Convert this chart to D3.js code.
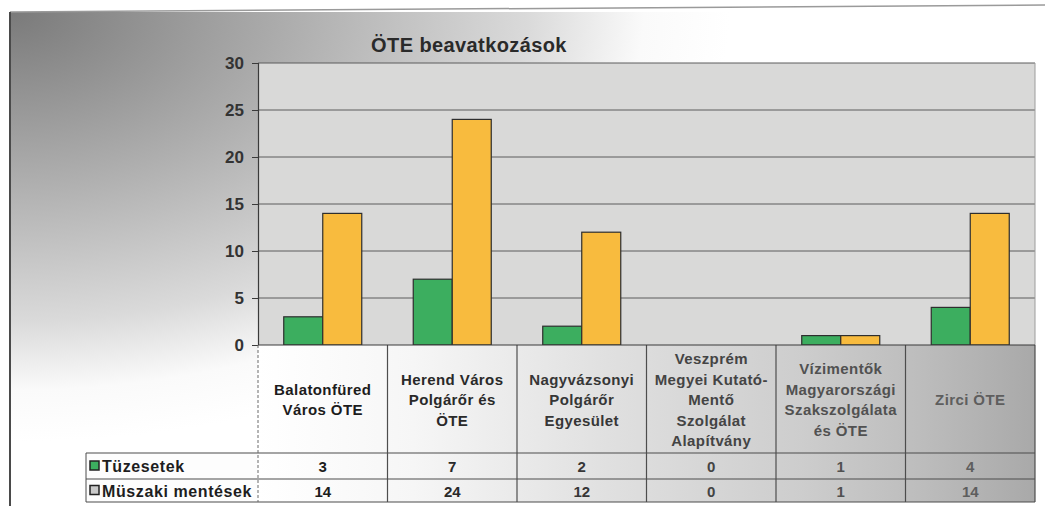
<!DOCTYPE html>
<html>
<head>
<meta charset="utf-8">
<script src="https://cdn.jsdelivr.net/npm/d3@7"></script>
<style>
  body { margin: 0; background: #fff; }
  svg { display: block; }
  text { font-family: Arial, "Liberation Sans", sans-serif; font-weight: bold; }
</style>
</head>
<body>
<svg id="chart" width="1045" height="506"></svg>
<script>
// chart data
var title = 'ÖTE beavatkozások';
var categories = [
    'Balatonfüred Város ÖTE',
    'Herend Város Polgárőr és ÖTE',
    'Nagyvázsonyi Polgárőr Egyesület',
    'Veszprém Megyei Kutató-Mentő Szolgálat Alapítvány',
    'Vízimentők Magyarországi Szakszolgálata és ÖTE',
    'Zirci ÖTE'
];
var categoryLines = [
    ['Balatonfüred', 'Város ÖTE'],
    ['Herend Város', 'Polgárőr és', 'ÖTE'],
    ['Nagyvázsonyi', 'Polgárőr', 'Egyesület'],
    ['Veszprém', 'Megyei Kutató-', 'Mentő', 'Szolgálat', 'Alapítvány'],
    ['Vízimentők', 'Magyarországi', 'Szakszolgálata', 'és ÖTE'],
    ['Zirci ÖTE']
];
var seriesNames = ['Tüzesetek', 'Müszaki mentések'];
var tuzesetek = [3, 7, 2, 0, 1, 4];
var muszaki = [14, 24, 12, 0, 1, 14];
var yTicks = [0, 5, 10, 15, 20, 25, 30];

var series = [
    {name: seriesNames[0], values: tuzesetek, color: '#3cae5f', key: '#3cae5f'},
    {name: seriesNames[1], values: muszaki, color: '#f8bb3e', key: '#c9c9c9'}
];

var W = 1045, H = 506;
var plot = {left: 258, right: 1035, top: 63, bottom: 345};
var table = {left: 86, top: plot.bottom, row1: 453, row2: 479, bottom: 502};
var page = {left: 10, top: 12};

var svg = d3.select('#chart');
var defs = svg.append('defs');

// scan-like shading of the page (elliptical, from the top-left corner)
var bg = defs.append('radialGradient')
    .attr('id', 'bgShade')
    .attr('cx', 0.5).attr('cy', 0.5).attr('r', 0.5);
bg.append('stop').attr('offset', 0).attr('stop-color', '#7a7a7a');
bg.append('stop').attr('offset', 0.4).attr('stop-color', '#afafaf');
bg.append('stop').attr('offset', 0.72).attr('stop-color', '#dadada');
bg.append('stop').attr('offset', 0.88).attr('stop-color', '#fafafa');
bg.append('stop').attr('offset', 1).attr('stop-color', '#ffffff');

defs.append('clipPath').attr('id', 'pageClip')
    .append('rect')
    .attr('x', page.left).attr('y', page.top)
    .attr('width', W - page.left).attr('height', H - page.top);

var tg = defs.append('linearGradient')
    .attr('id', 'tableShade')
    .attr('gradientUnits', 'userSpaceOnUse')
    .attr('x1', plot.left).attr('x2', plot.right).attr('y1', 0).attr('y2', 0);
tg.append('stop').attr('offset', 0).attr('stop-color', '#ffffff');
tg.append('stop').attr('offset', 0.2).attr('stop-color', '#f6f6f6');
tg.append('stop').attr('offset', 0.45).attr('stop-color', '#e0e0e0');
tg.append('stop').attr('offset', 0.7).attr('stop-color', '#cdcdcd');
tg.append('stop').attr('offset', 0.85).attr('stop-color', '#bdbdbd');
tg.append('stop').attr('offset', 1).attr('stop-color', '#a9a9a9');

var shadeRx = 720, shadeRy = 430;
svg.append('rect')
    .attr('clip-path', 'url(#pageClip)')
    .attr('x', page.left - shadeRx).attr('y', page.top - shadeRy)
    .attr('width', 2 * shadeRx).attr('height', 2 * shadeRy)
    .attr('fill', 'url(#bgShade)');

svg.append('line')
    .attr('x1', page.left).attr('y1', page.top).attr('x2', W).attr('y2', 5)
    .attr('stroke', '#9a9a9a').attr('stroke-width', 1.5);
svg.append('line')
    .attr('x1', page.left).attr('y1', page.top).attr('x2', page.left).attr('y2', H)
    .attr('stroke', '#4a4a4a').attr('stroke-width', 2);

// scales
var x = d3.scaleBand()
    .domain(categories)
    .range([plot.left, plot.right])
    .padding(0);

var xInner = d3.scaleBand()
    .domain(seriesNames)
    .range([0, x.bandwidth()])
    .paddingInner(0)
    .paddingOuter(0.66);

var y = d3.scaleLinear()
    .domain([0, 30])
    .range([plot.bottom, plot.top]);

// plot area
svg.append('rect')
    .attr('x', plot.left).attr('y', plot.top)
    .attr('width', plot.right - plot.left).attr('height', plot.bottom - plot.top)
    .attr('fill', '#d9d9d8');

svg.append('g')
    .selectAll('line')
    .data(yTicks.filter(function(d) { return d > 0; }))
    .enter().append('line')
    .attr('x1', plot.left).attr('x2', plot.right)
    .attr('y1', function(d) { return y(d); })
    .attr('y2', function(d) { return y(d); })
    .attr('stroke', '#5c5c5c')
    .attr('stroke-width', 1);

svg.append('line')
    .attr('x1', plot.right).attr('x2', plot.right)
    .attr('y1', plot.top).attr('y2', plot.bottom)
    .attr('stroke', '#9c9c9c');

// title
svg.append('text')
    .attr('x', 469).attr('y', 52)
    .attr('text-anchor', 'middle')
    .attr('font-size', 20)
    .attr('letter-spacing', 0.4)
    .attr('fill', '#2a2a2a')
    .text(title);

// bars
var groups = svg.append('g')
    .selectAll('g')
    .data(categories)
    .enter().append('g')
    .attr('transform', function(d) { return 'translate(' + x(d) + ',0)'; });

groups.selectAll('rect')
    .data(function(d, i) {
        return series.map(function(s) {
            return {name: s.name, value: s.values[i], color: s.color};
        }).filter(function(b) { return b.value > 0; });
    })
    .enter().append('rect')
    .attr('x', function(d) { return xInner(d.name); })
    .attr('width', xInner.bandwidth())
    .attr('y', function(d) { return y(d.value); })
    .attr('height', function(d) { return y(0) - y(d.value); })
    .attr('fill', function(d) { return d.color; })
    .attr('stroke', '#2e2e2e')
    .attr('stroke-width', 1.2);

// y axis
var yAxis = d3.axisLeft(y)
    .tickValues(yTicks)
    .tickSize(6)
    .tickPadding(8);

var gY = svg.append('g')
    .attr('transform', 'translate(' + plot.left + ',0)')
    .call(yAxis);
gY.select('.domain').attr('stroke', '#3a3a3a').attr('stroke-width', 1.2);
gY.selectAll('.tick line').attr('stroke', '#3a3a3a');
gY.selectAll('.tick text')
    .attr('font-size', 17)
    .attr('font-family', 'Arial, "Liberation Sans", sans-serif')
    .attr('font-weight', 'bold')
    .attr('fill', '#333');

// data table
svg.append('rect')
    .attr('x', plot.left).attr('y', table.top)
    .attr('width', plot.right - plot.left).attr('height', table.bottom - table.top)
    .attr('fill', 'url(#tableShade)');

svg.append('rect')
    .attr('x', table.left).attr('y', table.row1)
    .attr('width', plot.left - table.left).attr('height', table.bottom - table.row1)
    .attr('fill', '#fdfdfd');

var lineColor = '#4d4d4d';
var hLines = [table.row1, table.row2, table.bottom];
svg.append('g')
    .selectAll('line')
    .data(hLines)
    .enter().append('line')
    .attr('x1', table.left).attr('x2', plot.right)
    .attr('y1', function(d) { return d; })
    .attr('y2', function(d) { return d; })
    .attr('stroke', lineColor)
    .attr('stroke-width', 1.2);

svg.append('line')
    .attr('x1', table.left).attr('x2', table.left)
    .attr('y1', table.row1).attr('y2', table.bottom)
    .attr('stroke', lineColor);

svg.append('line')
    .attr('x1', plot.left).attr('x2', plot.left)
    .attr('y1', table.top).attr('y2', table.bottom)
    .attr('stroke', '#6a6a6a')
    .attr('stroke-dasharray', '3,2');

svg.append('g')
    .selectAll('line')
    .data(categories.slice(1).concat([null]))
    .enter().append('line')
    .attr('x1', function(d) { return d === null ? plot.right : x(d); })
    .attr('x2', function(d) { return d === null ? plot.right : x(d); })
    .attr('y1', table.top).attr('y2', table.bottom)
    .attr('stroke', lineColor)
    .attr('stroke-width', 1.2);

svg.append('line')
    .attr('x1', plot.left).attr('x2', plot.right)
    .attr('y1', table.top).attr('y2', table.top)
    .attr('stroke', '#3a3a3a')
    .attr('stroke-width', 1.2);

var textShade = d3.interpolateRgb('#1c1c1c', '#5e5e5e');
var labelMid = (table.top + table.row1) / 2 + 6;
var lineHeight = 20.5;

var labels = svg.append('g')
    .selectAll('text')
    .data(categories)
    .enter().append('text')
    .attr('text-anchor', 'middle')
    .attr('font-size', 15)
    .attr('letter-spacing', 0.4)
    .attr('fill', function(d, i) { return textShade(i / (categories.length - 1)); });

labels.selectAll('tspan')
    .data(function(d, i) {
        var lines = categoryLines[i];
        return lines.map(function(t, j) {
            return {text: t, cx: x(d) + x.bandwidth() / 2, dy: (j - (lines.length - 1) / 2) * lineHeight};
        });
    })
    .enter().append('tspan')
    .attr('x', function(d) { return d.cx; })
    .attr('y', function(d) { return labelMid + d.dy; })
    .text(function(d) { return d.text; });

var rowMids = [(table.row1 + table.row2) / 2 + 6, (table.row2 + table.bottom) / 2 + 6];

series.forEach(function(s, si) {
    svg.append('g')
        .selectAll('text')
        .data(s.values)
        .enter().append('text')
        .attr('x', function(d, i) { return x(categories[i]) + x.bandwidth() / 2; })
        .attr('y', rowMids[si])
        .attr('text-anchor', 'middle')
        .attr('font-size', 15)
        .attr('fill', function(d, i) { return textShade(i / (categories.length - 1)); })
        .text(function(d) { return d; });

    svg.append('rect')
        .attr('x', 90).attr('y', rowMids[si] - 11)
        .attr('width', 9).attr('height', 9)
        .attr('fill', s.key)
        .attr('stroke', '#222')
        .attr('stroke-width', 1.5);

    svg.append('text')
        .attr('x', 102).attr('y', rowMids[si])
        .attr('font-size', 16)
        .attr('letter-spacing', 0.6)
        .attr('fill', '#1e1e1e')
        .text(s.name);
});
</script>
</body>
</html>
